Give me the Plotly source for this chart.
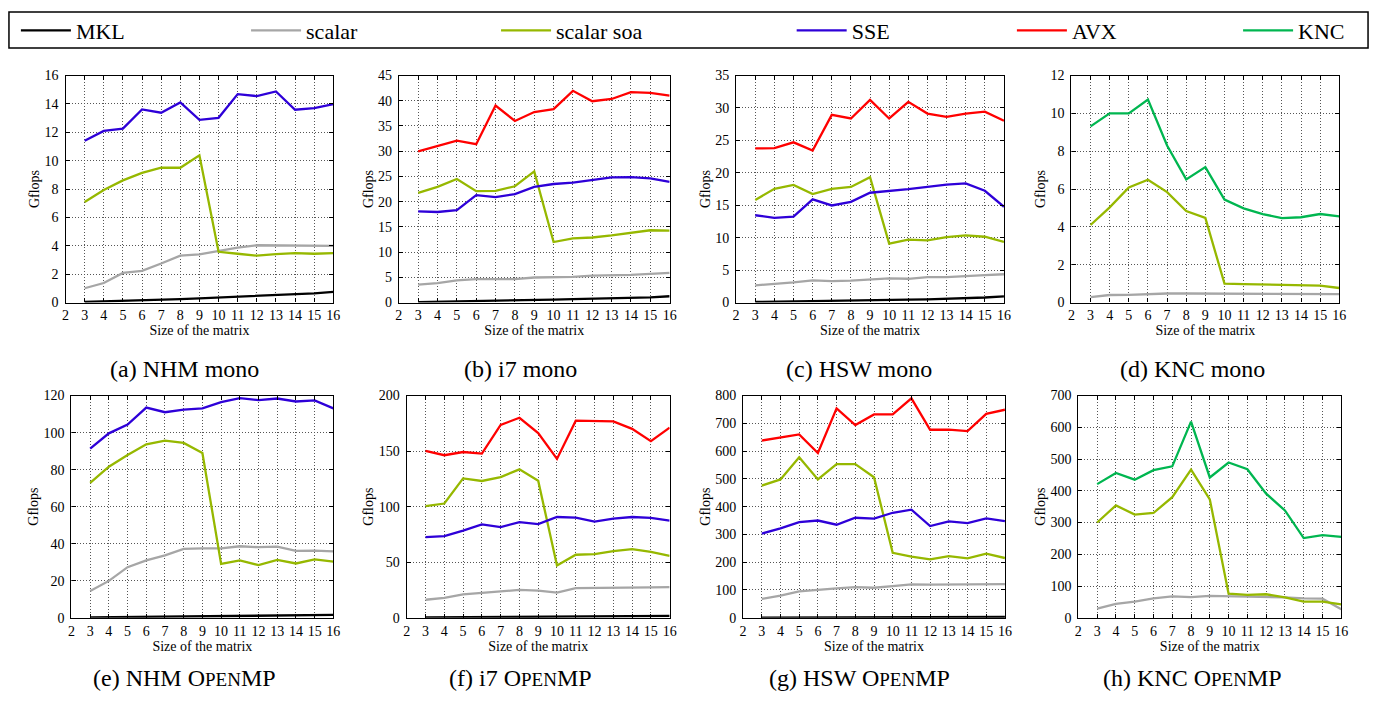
import plotly.graph_objects as go

W, H = 1380, 706

sizes = list(range(3, 17))
x_ticks = list(range(2, 17))

# ---------------- data (Gflops) ----------------
# (a) NHM mono
nhm_mono_mkl = [0.05, 0.08, 0.12, 0.15, 0.20, 0.24, 0.30, 0.35, 0.40, 0.48, 0.53, 0.58, 0.65, 0.75]
nhm_mono_scalar = [1.01, 1.38, 2.09, 2.23, 2.75, 3.31, 3.40, 3.63, 3.88, 4.04, 4.02, 3.99, 3.97, 3.99]
nhm_mono_soa = [7.09, 7.94, 8.61, 9.14, 9.50, 9.50, 10.38, 3.58, 3.44, 3.31, 3.42, 3.49, 3.44, 3.49]
nhm_mono_sse = [11.41, 12.10, 12.26, 13.61, 13.38, 14.10, 12.88, 13.02, 14.69, 14.55, 14.88, 13.59, 13.70, 13.98]

# (b) i7 mono
i7_mono_mkl = [0.10, 0.15, 0.20, 0.30, 0.38, 0.45, 0.55, 0.60, 0.68, 0.75, 0.85, 0.95, 1.05, 1.25]
i7_mono_scalar = [3.55, 3.87, 4.39, 4.65, 4.65, 4.65, 4.97, 4.97, 5.10, 5.36, 5.36, 5.50, 5.68, 5.87]
i7_mono_soa = [21.76, 22.92, 24.50, 22.08, 22.14, 23.05, 26.00, 12.00, 12.72, 12.90, 13.30, 13.80, 14.33, 14.27]
i7_mono_sse = [18.07, 17.95, 18.33, 21.30, 20.90, 21.50, 22.92, 23.50, 23.76, 24.34, 24.80, 24.85, 24.60, 23.90]
i7_mono_avx = [29.96, 30.99, 32.09, 31.40, 39.06, 36.00, 37.77, 38.35, 41.96, 39.90, 40.35, 41.70, 41.58, 41.00]

# (c) HSW mono
hsw_mono_mkl = [0.10, 0.13, 0.17, 0.20, 0.25, 0.30, 0.35, 0.40, 0.45, 0.50, 0.58, 0.68, 0.78, 0.95]
hsw_mono_scalar = [2.66, 2.86, 3.11, 3.42, 3.31, 3.37, 3.57, 3.72, 3.67, 3.92, 3.92, 4.02, 4.22, 4.37]
hsw_mono_soa = [15.82, 17.53, 18.13, 16.72, 17.53, 17.83, 19.34, 9.09, 9.69, 9.59, 10.10, 10.35, 10.15, 9.34]
hsw_mono_sse = [13.46, 13.06, 13.26, 15.92, 14.97, 15.52, 16.93, 17.18, 17.48, 17.83, 18.18, 18.38, 17.23, 14.77]
hsw_mono_avx = [23.76, 23.80, 24.70, 23.45, 28.93, 28.38, 31.24, 28.38, 30.94, 29.13, 28.63, 29.13, 29.43, 28.03]

# (d) KNC mono
knc_mono_scalar = [0.29, 0.40, 0.41, 0.45, 0.48, 0.48, 0.48, 0.48, 0.48, 0.46, 0.45, 0.45, 0.45, 0.45]
knc_mono_soa = [4.10, 5.03, 6.08, 6.49, 5.84, 4.84, 4.48, 1.00, 0.98, 0.96, 0.95, 0.95, 0.90, 0.77]
knc_mono_knc = [9.31, 10.00, 10.00, 10.73, 8.30, 6.51, 7.16, 5.44, 4.98, 4.68, 4.46, 4.51, 4.68, 4.56]

# (e) NHM OpenMP
nhm_omp_mkl = [0.2, 0.3, 0.4, 0.5, 0.6, 0.7, 0.8, 0.9, 1.0, 1.1, 1.2, 1.3, 1.4, 1.5]
nhm_omp_scalar = [14.4, 19.9, 27.3, 31.0, 33.7, 37.2, 37.5, 37.5, 38.6, 38.1, 38.4, 36.1, 36.3, 35.8]
nhm_omp_soa = [72.8, 81.6, 87.9, 93.7, 95.7, 94.4, 89.0, 29.1, 31.0, 28.4, 31.2, 29.3, 31.5, 30.3]
nhm_omp_sse = [91.3, 99.6, 104.3, 113.5, 111.0, 112.4, 113.1, 116.5, 118.6, 117.5, 118.4, 116.8, 117.4, 113.1]

# (f) i7 OpenMP
i7_omp_mkl = [0.2, 0.3, 0.4, 0.5, 0.6, 0.7, 0.8, 0.9, 1.0, 1.1, 1.2, 1.3, 1.4, 1.6]
i7_omp_scalar = [16.2, 17.9, 21.1, 22.6, 23.8, 25.0, 24.4, 22.6, 26.7, 26.7, 26.7, 27.0, 27.3, 27.6]
i7_omp_soa = [100.4, 102.8, 125.4, 123.1, 126.6, 133.6, 123.3, 47.0, 56.7, 57.3, 59.9, 61.7, 59.3, 55.8]
i7_omp_sse = [72.5, 73.4, 78.4, 84.0, 81.6, 86.0, 84.3, 90.7, 90.2, 86.6, 89.3, 90.7, 89.9, 87.5]
i7_omp_avx = [150.1, 146.3, 149.2, 147.7, 173.6, 180.0, 166.2, 143.0, 177.4, 177.4, 176.8, 170.0, 158.9, 171.2]

# (g) HSW OpenMP
hsw_omp_mkl = [0.5, 0.7, 0.9, 1.1, 1.3, 1.5, 1.7, 1.9, 2.1, 2.3, 2.5, 2.7, 2.9, 3.2]
hsw_omp_scalar = [68, 80, 95, 101, 106, 110, 108, 114, 120, 119, 119, 119, 120, 121]
hsw_omp_soa = [476, 498, 578, 498, 553, 553, 506, 234, 220, 210, 222, 214, 231, 215]
hsw_omp_sse = [303, 322, 344, 350, 335, 360, 357, 378, 389, 330, 347, 341, 358, 348]
hsw_omp_avx = [638, 649, 660, 593, 754, 694, 732, 732, 790, 677, 677, 672, 734, 749]

# (h) KNC OpenMP
knc_omp_scalar = [29, 44, 51, 61, 67, 65, 69, 68, 68, 67, 64, 61, 60, 27]
knc_omp_soa = [300, 354, 325, 330, 380, 467, 373, 76, 72, 74, 64, 51, 51, 42]
knc_omp_knc = [421, 456, 435, 465, 477, 618, 442, 489, 468, 391, 338, 251, 260, 255]

series_names = ["MKL", "scalar", "scalar soa", "SSE", "AVX", "KNC"]
series_colors = ["#000000", "#a6a6a6", "#96b800", "#2e00d8", "#ff0000", "#00b650"]

captions = ["(a) NHM mono", "(b) i7 mono", "(c) HSW mono", "(d) KNC mono",
            "(e) NHM O<span style='font-size:19px'>PEN</span>MP",
            "(f) i7 O<span style='font-size:19px'>PEN</span>MP",
            "(g) HSW O<span style='font-size:19px'>PEN</span>MP",
            "(h) KNC O<span style='font-size:19px'>PEN</span>MP"]

y_ranges = [(16, 2), (45, 5), (35, 5), (12, 2), (120, 20), (200, 50), (800, 100), (700, 100)]

panels = [
    {"MKL": nhm_mono_mkl, "scalar": nhm_mono_scalar, "scalar soa": nhm_mono_soa, "SSE": nhm_mono_sse},
    {"MKL": i7_mono_mkl, "scalar": i7_mono_scalar, "scalar soa": i7_mono_soa, "SSE": i7_mono_sse, "AVX": i7_mono_avx},
    {"MKL": hsw_mono_mkl, "scalar": hsw_mono_scalar, "scalar soa": hsw_mono_soa, "SSE": hsw_mono_sse, "AVX": hsw_mono_avx},
    {"scalar": knc_mono_scalar, "scalar soa": knc_mono_soa, "KNC": knc_mono_knc},
    {"MKL": nhm_omp_mkl, "scalar": nhm_omp_scalar, "scalar soa": nhm_omp_soa, "SSE": nhm_omp_sse},
    {"MKL": i7_omp_mkl, "scalar": i7_omp_scalar, "scalar soa": i7_omp_soa, "SSE": i7_omp_sse, "AVX": i7_omp_avx},
    {"MKL": hsw_omp_mkl, "scalar": hsw_omp_scalar, "scalar soa": hsw_omp_soa, "SSE": hsw_omp_sse, "AVX": hsw_omp_avx},
    {"scalar": knc_omp_scalar, "scalar soa": knc_omp_soa, "KNC": knc_omp_knc},
]

# ---------------- layout geometry (pixels) ----------------
x_px = [(62, 332), (398, 671), (738, 1008), (1076, 1346),
        (68, 332), (406, 671), (745, 1009), (1083, 1348)]
y_px = [(70, 302)] * 4 + [(397, 624)] * 4
caption_x = [182, 521, 862, 1198, 182, 521, 862, 1198]
caption_y = [370, 370, 370, 370, 686, 686, 686, 686]
legend_line_x = [22, 254, 506, 804, 1026, 1254]
legend_y = 24

FONT = "Liberation Serif, Times New Roman, Times, serif"

fig = go.Figure()
shown = set()
for i, data in enumerate(panels):
    ax = "" if i == 0 else str(i + 1)
    for name in series_names:
        if name not in data:
            continue
        k = series_names.index(name)
        first = name not in shown
        shown.add(name)
        fig.add_trace(go.Scatter(
            x=sizes, y=data[name], mode="lines", name=name,
            line=dict(color=series_colors[k], width=2.3),
            xaxis="x" + ax, yaxis="y" + ax,
            showlegend=first,
            legend="legend" if k == 0 else "legend" + str(k + 1),
            hoverinfo="skip",
        ))

layout = dict(
    width=W, height=H, margin=dict(l=0, r=0, t=0, b=0),
    paper_bgcolor="white", plot_bgcolor="white",
    font=dict(family=FONT, size=14, color="black"),
    showlegend=True,
)

for i in range(8):
    ax = "" if i == 0 else str(i + 1)
    x0, x1 = x_px[i]
    yt, yb = y_px[i]
    ymax, ydt = y_ranges[i]
    layout["xaxis" + ax] = dict(
        domain=[x0 / W, x1 / W], anchor="y" + ax, range=[2, 16],
        tickmode="array", tickvals=x_ticks, ticktext=[str(v) for v in x_ticks],
        showgrid=True, gridcolor="#555555", griddash="1px,2px", gridwidth=1,
        showline=True, linecolor="black", linewidth=1.2, mirror="allticks",
        ticks="inside", ticklen=4, tickcolor="black", zeroline=False,
        tickfont=dict(family=FONT, size=14),
        title=dict(text="Size of the matrix", font=dict(family=FONT, size=14), standoff=0),
    )
    layout["yaxis" + ax] = dict(
        domain=[1 - yb / H, 1 - yt / H], anchor="x" + ax, range=[0, ymax],
        dtick=ydt, tick0=0,
        showgrid=True, gridcolor="#555555", griddash="1px,2px", gridwidth=1,
        showline=True, linecolor="black", linewidth=1.2, mirror="allticks",
        ticks="inside", ticklen=4, tickcolor="black", zeroline=False,
        tickfont=dict(family=FONT, size=14), ticklabelstandoff=3,
        title=dict(text="Gflops", font=dict(family=FONT, size=14), standoff=1),
    )

for k in range(6):
    key = "legend" if k == 0 else "legend" + str(k + 1)
    layout[key] = dict(
        x=(legend_line_x[k] - 10) / W, y=1 - legend_y / H,
        xanchor="left", yanchor="middle", orientation="h",
        font=dict(family=FONT, size=22), itemwidth=50,
        bgcolor="rgba(0,0,0,0)", borderwidth=0,
    )

fig.update_layout(**layout)

fig.add_shape(type="rect", xref="paper", yref="paper",
              x0=5 / W, x1=1375 / W, y0=1 - 42 / H, y1=1 - 5 / H,
              line=dict(color="black", width=1.5))

for i in range(8):
    fig.add_annotation(text=captions[i], xref="paper", yref="paper",
                       x=caption_x[i] / W, y=1 - caption_y[i] / H,
                       xanchor="center", yanchor="middle", showarrow=False,
                       font=dict(family=FONT, size=24, color="black"))

fig.write_html(
    "out.html",
    config={"displayModeBar": False},
    post_script=("document.documentElement.style.margin='0';"
                 "document.body.style.margin='0';"
                 "document.documentElement.style.overflow='hidden';"
                 "document.body.style.overflow='hidden';"),
)
